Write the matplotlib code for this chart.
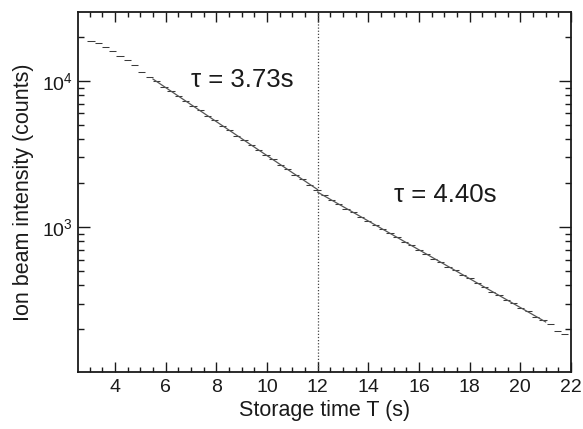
import numpy as np
import matplotlib
matplotlib.use("Agg")
import matplotlib.pyplot as plt
from matplotlib.ticker import LogLocator, NullFormatter, MultipleLocator, FixedFormatter, FixedLocator

plt.rcParams["font.family"] = ["Liberation Sans", "DejaVu Sans"]
plt.rcParams["mathtext.fontset"] = "custom"
plt.rcParams["mathtext.rm"] = "Liberation Sans"
plt.rcParams["mathtext.it"] = "Liberation Sans:italic"

# Storage time bin centres (s) and measured ion counts per bin
time_s = [3.05, 3.34, 3.63, 3.91, 4.20, 4.49, 4.78, 5.06, 5.35, 5.64,
          5.93, 6.21, 6.50, 6.79, 7.08, 7.37, 7.65, 7.94, 8.23, 8.52,
          8.80, 9.09, 9.38, 9.67, 9.96, 10.24, 10.53, 10.82, 11.11, 11.39,
          11.68, 11.97, 12.26, 12.54, 12.83, 13.12, 13.41, 13.70, 13.98, 14.27,
          14.56, 14.85, 15.13, 15.42, 15.71, 16.00, 16.28, 16.57, 16.86, 17.15,
          17.44, 17.72, 18.01, 18.30, 18.59, 18.87, 19.16, 19.45, 19.74, 20.02,
          20.31, 20.60, 20.89, 21.18, 21.46, 21.75]
counts = [18800, 18300, 17000, 15950, 14850, 13850, 12800, 11600, 10700, 10050,
          9150, 8580, 7850, 7350, 6720, 6290, 5760, 5400, 4940, 4630,
          4230, 3960, 3630, 3400, 3110, 2910, 2660, 2500, 2280, 2140,
          1945, 1810, 1670, 1530, 1440, 1340, 1265, 1175, 1110, 1030,
          975, 905, 855, 795, 750, 697, 660, 610, 578, 536,
          508, 470, 446, 412, 391, 362, 343, 317, 301, 278,
          265, 244, 231, 216, 195, 187]
bin_half_width = 0.144

# Exponential fits before and after the 12 s boundary
tau_early, tau_late = 3.73, 4.40
amp_early, amp_late = 45100.0, 26550.0
fit_early_range = (5.5, 12.0)
fit_late_range = (12.0, 21.0)
boundary_s = 12.0

fig = plt.figure(figsize=(5.83, 4.29), dpi=100)
ax = fig.add_axes([0.1338, 0.1329, 0.8456, 0.8391])

t = np.asarray(time_s)
n = np.asarray(counts, dtype=float)
ax.errorbar(t, n, xerr=bin_half_width, fmt="none",
            ecolor="#3a3a3a", elinewidth=0.75, capsize=0)

for (t0, t1), amp, tau in ((fit_early_range, amp_early, tau_early),
                           (fit_late_range, amp_late, tau_late)):
    tt = np.linspace(t0, t1, 200)
    ax.plot(tt, amp * np.exp(-tt / tau), color="#555555", lw=0.9)

ax.axvline(boundary_s, color="#444444", ls=(0, (1, 1.5)), lw=0.9)

ax.text(7.0, 10100, "\u03c4 = %.2fs" % tau_early, fontsize=18.5,
        va="center", ha="left", color="#1a1a1a")
ax.text(15.0, 1660, "\u03c4 = %.2fs" % tau_late, fontsize=18.5,
        va="center", ha="left", color="#1a1a1a")

ax.set_yscale("log")
ax.set_xlim(2.54, 22.0)
ax.set_ylim(102, 29700)

ax.xaxis.set_major_locator(MultipleLocator(2))
ax.xaxis.set_minor_locator(MultipleLocator(0.5))
ax.yaxis.set_major_locator(FixedLocator([1e3, 1e4]))
ax.yaxis.set_major_formatter(FixedFormatter([r"$10^{3}$", r"$10^{4}$"]))
ax.yaxis.set_minor_locator(LogLocator(base=10, subs=np.arange(2, 10), numticks=20))
ax.yaxis.set_minor_formatter(NullFormatter())

ax.tick_params(which="both", direction="in", top=True, right=True,
               colors="#1a1a1a", labelsize=14, width=1.0)
ax.tick_params(which="major", length=7.5)
ax.tick_params(which="minor", length=3.5)
ax.tick_params(axis="y", which="major", length=8.5)
ax.tick_params(axis="y", which="minor", length=4.5)
ax.tick_params(axis="x", pad=5)

for sp in ax.spines.values():
    sp.set_linewidth(1.3)
    sp.set_color("#1a1a1a")

ax.set_xlabel("Storage time T (s)", fontsize=15.5, color="#1a1a1a", labelpad=3)
ax.set_ylabel("Ion beam intensity (counts)", fontsize=15.5, color="#1a1a1a", labelpad=6)

fig.savefig("out.png", dpi=100)
